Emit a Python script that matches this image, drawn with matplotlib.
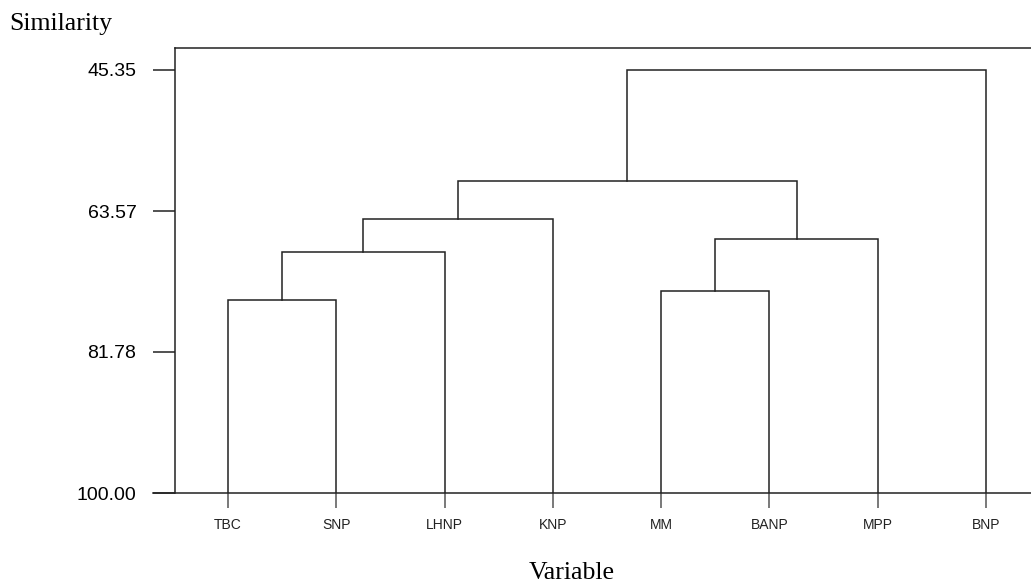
import matplotlib
matplotlib.use("Agg")
import matplotlib.pyplot as plt
from matplotlib.lines import Line2D

leaves = ["TBC", "SNP", "LHNP", "KNP", "MM", "BANP", "MPP", "BNP"]
# merges: (child a, child b, similarity); new node ids start after the leaves
merge_a = [0, 8, 9, 4, 11, 10, 13]
merge_b = [1, 2, 3, 5, 6, 12, 7]
merge_sim = [75.07, 68.86, 64.60, 73.90, 67.18, 59.69, 45.35]
y_ticks = [45.35, 63.57, 81.78, 100.00]

fig = plt.figure(figsize=(10.31, 5.86), dpi=100)
ax = fig.add_axes([175 / 1031, 93 / 586, 856 / 1031, 445 / 586])

pos = {i: float(i) for i in range(len(leaves))}
hgt = {i: 100.0 for i in range(len(leaves))}
lc = "#222222"
for k, (a, b, s) in enumerate(zip(merge_a, merge_b, merge_sim)):
    node = len(leaves) + k
    xa, xb = pos[a], pos[b]
    ax.plot([xa, xa, xb, xb], [hgt[a], s, s, hgt[b]], color=lc, lw=1.1,
            solid_joinstyle="miter")
    pos[node] = (xa + xb) / 2
    hgt[node] = s

ax.set_xlim(-0.489, 7.415)
ax.set_ylim(100, 42.51)

ax.set_yticks(y_ticks)
ax.set_yticklabels([f"{v:.2f}" for v in y_ticks], family="Liberation Sans",
                   fontsize=14)
ax.tick_params(axis="y", length=15.8, width=1.1, color=lc, pad=12,
               direction="out")

ax.set_xticks(range(len(leaves)))
ax.set_xticklabels(leaves, family="Liberation Sans", fontsize=10,
                   color="#222222")
ax.tick_params(axis="x", length=10.8, width=1.1, color="#555555", pad=7,
               direction="out")

for side in ("right", "bottom"):
    ax.spines[side].set_visible(False)
for side in ("left", "top"):
    ax.spines[side].set_color(lc)
    ax.spines[side].set_linewidth(1.1)
ax.add_line(Line2D([-22 / 856, 1], [0, 0], transform=ax.transAxes,
                   color=lc, lw=1.1, clip_on=False))

fig.text(9 / 1031, 1 - 24 / 586, "Similarity", family="Liberation Serif",
         fontsize=18.5, ha="left", va="center")
fig.text(572 / 1031, 1 - 573 / 586, "Variable", family="Liberation Serif",
         fontsize=18.5, ha="center", va="center")

fig.savefig("out.png", dpi=100)
